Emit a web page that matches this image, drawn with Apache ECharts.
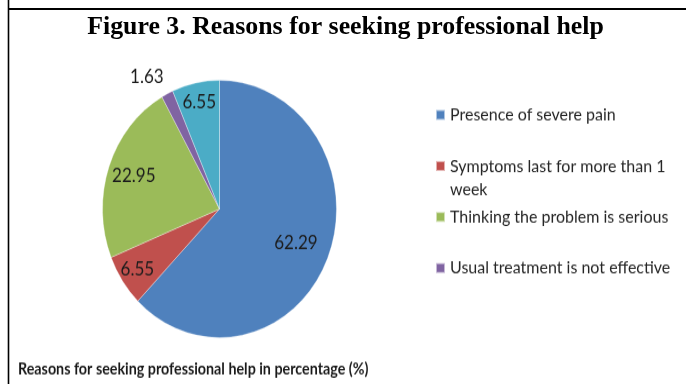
<!DOCTYPE html>
<html>
<head>
<meta charset="utf-8">
<script src="https://cdn.jsdelivr.net/npm/echarts@6/dist/echarts.min.js"></script>
<style>
  html, body { margin: 0; padding: 0; background: #ffffff; }
  #frame { position: absolute; left: 0; top: 0; width: 686px; height: 384px; }
  /* the embedded chart figure is shown slightly taller than it is wide */
  #plot {
    position: absolute; left: 8px; top: 50px; width: 678px; height: 304px;
    transform: scaleY(1.1); transform-origin: 0 0;
  }
</style>
</head>
<body>
<div id="frame"></div>
<div id="plot"></div>
<script>
// Reasons for seeking professional help, share of respondents (%)
const reasons = [
  'Presence of severe pain',
  'Symptoms last for more than 1 week',
  'Thinking the problem is serious',
  'Usual treatment is not effective',
  'Other reasons'
];
const shares = [62.29, 6.55, 22.95, 1.63, 6.55];
// only the first four reasons are listed in the key
const legendCount = 4;

const figureTitle = 'Figure 3. Reasons for seeking professional help';
const captionText = 'Reasons for seeking professional help in percentage (%)';

const palette = ['#4F81BD', '#C0504D', '#9BBB59', '#8064A2', '#4BACC6'];

// ---- page frame and figure title ----
const frame = echarts.init(document.getElementById('frame'), null, { renderer: 'canvas' });
frame.setOption({
  animation: false,
  graphic: [
    { type: 'line', shape: { x1: 8.5, y1: 0, x2: 8.5, y2: 384 }, style: { stroke: '#000', lineWidth: 1.6 } },
    { type: 'line', shape: { x1: 8, y1: 9, x2: 686, y2: 9 }, style: { stroke: '#000', lineWidth: 2 } },
    {
      type: 'text', x: 345.5, y: 27,
      style: {
        text: figureTitle, textAlign: 'center', textVerticalAlign: 'middle',
        font: 'bold 25.85px "Liberation Serif", "Times New Roman", serif', fill: '#000'
      }
    }
  ]
});

// ---- pie chart figure ----
const plot = echarts.init(document.getElementById('plot'), null, { renderer: 'canvas' });

const center = [211.5, 144.5];
const R = 117;
const labelFont = { fontFamily: 'Lato', fontSize: 17, color: '#1c1c1c' };

// where a value label sits, as a fraction of the radius, by slice size
function labelDepth(v) {
  if (v < 3) return null;        // too thin: label goes outside
  if (v >= 50) return 0.68;
  if (v >= 10) return 0.75;
  return 0.82;
}

// main slices; very thin slices carry their value just outside the rim
const sliceData = reasons.map((name, i) => ({
  name,
  value: shares[i],
  itemStyle: { color: palette[i] },
  label: labelDepth(shares[i]) === null
    ? Object.assign({ show: true, position: 'outside', distanceToLabelLine: -4, formatter: '{c}' }, labelFont)
    : { show: false }
}));

// transparent rings that only carry the in-slice value labels
function labelRing(depth) {
  return {
    type: 'pie', center, radius: [R * (2 * depth - 1), R], startAngle: 90, clockwise: true,
    silent: true, legendHoverLink: false, avoidLabelOverlap: false,
    itemStyle: { color: 'rgba(0,0,0,0)', borderWidth: 0 },
    labelLine: { show: false },
    emphasis: { disabled: true },
    data: reasons.map((name, i) => ({
      name, value: shares[i],
      label: labelDepth(shares[i]) === depth
        ? Object.assign({ show: true, position: 'inside', formatter: '{c}' }, labelFont)
        : { show: false }
    }))
  };
}
const depths = [...new Set(shares.map(labelDepth).filter(d => d !== null))];

// wrap long key entries onto further lines
function wrapKey(text, maxChars) {
  const lines = [''];
  text.split(' ').forEach(w => {
    const cur = lines[lines.length - 1];
    const next = cur ? cur + ' ' + w : w;
    if (next.length > maxChars && cur) lines.push(w); else lines[lines.length - 1] = next;
  });
  return lines.join('\n');
}

const keyLineHeight = 21;
const keySwatch = 9;
const keyFirstLine = 59;   // centre of the first key entry
const keyPitch = 46.4;     // distance between key entries
const legends = reasons.slice(0, legendCount).map((name, i) => {
  const text = wrapKey(name, 32);
  const extra = text.split('\n').length - 1;
  // swatch stays level with the first text line of a wrapped entry
  const boxH = keySwatch + extra * keyLineHeight;
  const icon = extra
    ? 'path://M0,0H' + keySwatch + 'V' + keySwatch + 'H0Z M0,' + boxH + 'L0,' + boxH
    : 'rect';
  return {
    data: [name],
    orient: 'vertical',
    left: 427,
    top: keyFirstLine + i * keyPitch - keyLineHeight / 2,
    padding: 0,
    itemWidth: keySwatch, itemHeight: boxH, itemGap: 0,
    icon,
    selectedMode: false,
    formatter: () => text,
    textStyle: { fontFamily: 'Lato', fontSize: 16, color: '#262626', lineHeight: keyLineHeight }
  };
});

plot.setOption({
  animation: false,
  legend: legends,
  series: [
    {
      type: 'pie', center, radius: R, startAngle: 90, clockwise: true,
      avoidLabelOverlap: false,
      itemStyle: { borderColor: 'rgba(255,255,255,0.55)', borderWidth: 0.6 },
      labelLine: { show: false, length: 17, length2: 0 },
      emphasis: { disabled: true },
      data: sliceData
    },
    ...depths.map(labelRing)
  ],
  graphic: [{
    type: 'text', x: 10, y: 290,
    style: {
      text: captionText, textVerticalAlign: 'middle',
      font: 'bold 14.3px Lato', fill: '#1a1a1a'
    }
  }]
});
</script>
</body>
</html>
